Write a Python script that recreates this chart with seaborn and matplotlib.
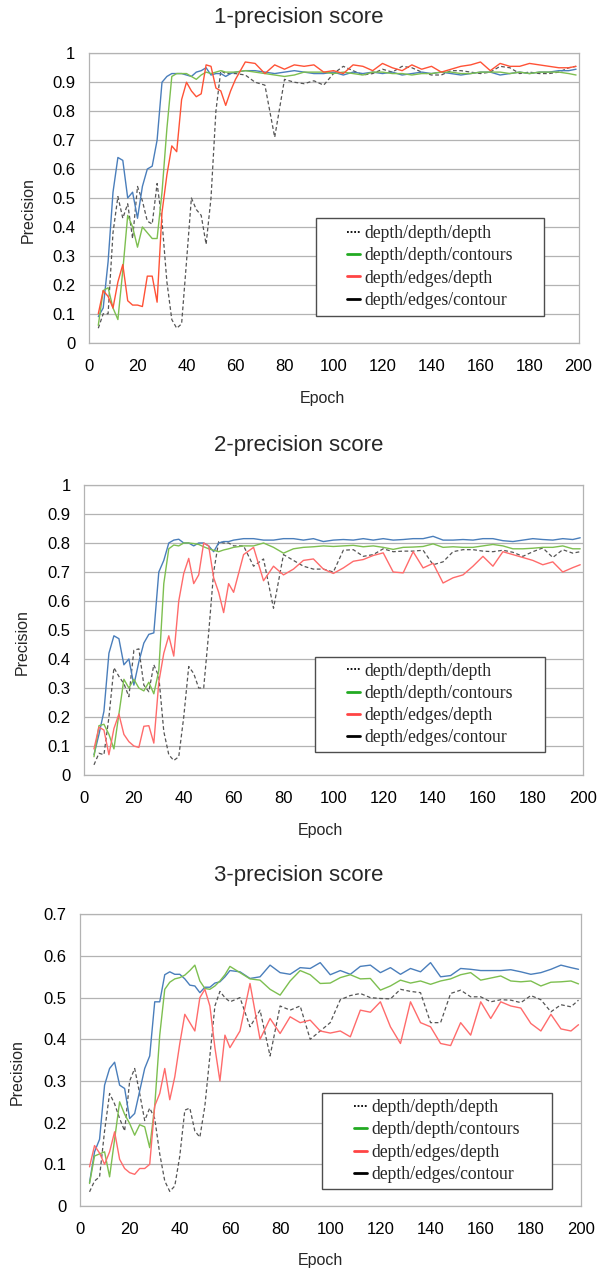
import pandas as pd
import seaborn as sns
import matplotlib.pyplot as plt
from matplotlib.lines import Line2D
from matplotlib.patches import Rectangle

# epochs sampled from the curves (every 2 epochs early, every 4 later)
EPOCHS = list(range(4, 61, 2)) + list(range(64, 197, 4)) + [199]
X_TICKS = list(range(0, 201, 20))

LABELS = ["depth/depth/depth", "depth/depth/contours", "depth/edges/depth", "depth/edges/contour"]
TITLES = ["1-precision score", "2-precision score", "3-precision score"]

# ---- 1-precision ----
p1_blue = [0.09, 0.12, 0.28, 0.52, 0.64, 0.63, 0.50, 0.52, 0.43, 0.54,
           0.60, 0.61, 0.70, 0.90, 0.92, 0.93, 0.93, 0.93, 0.925, 0.92,
           0.935, 0.94, 0.95, 0.925, 0.93, 0.93, 0.92, 0.93, 0.935,
           0.94, 0.94, 0.935, 0.93, 0.935, 0.94, 0.935, 0.93, 0.93, 0.935,
           0.925, 0.935, 0.93, 0.935, 0.93, 0.935, 0.925, 0.93, 0.935, 0.93,
           0.935, 0.93, 0.925, 0.93, 0.935, 0.935, 0.925, 0.93, 0.935, 0.93,
           0.935, 0.935, 0.94, 0.94, 0.945]
p1_green = [0.06, 0.18, 0.19, 0.12, 0.08, 0.25, 0.44, 0.40, 0.33, 0.40,
            0.38, 0.36, 0.36, 0.52, 0.74, 0.92, 0.93, 0.93, 0.93, 0.92,
            0.91, 0.925, 0.935, 0.93, 0.935, 0.94, 0.935, 0.935, 0.935,
            0.94, 0.935, 0.93, 0.925, 0.92, 0.925, 0.935, 0.935, 0.935, 0.93,
            0.935, 0.93, 0.925, 0.935, 0.935, 0.93, 0.93, 0.925, 0.93, 0.93,
            0.935, 0.935, 0.93, 0.93, 0.935, 0.935, 0.935, 0.93, 0.935, 0.93,
            0.935, 0.935, 0.935, 0.93, 0.925]
p1_red = [0.10, 0.18, 0.16, 0.12, 0.21, 0.27, 0.145, 0.13, 0.13, 0.125,
          0.23, 0.23, 0.14, 0.45, 0.58, 0.68, 0.66, 0.84, 0.90, 0.87,
          0.85, 0.86, 0.96, 0.955, 0.88, 0.87, 0.82, 0.87, 0.91,
          0.97, 0.965, 0.93, 0.96, 0.945, 0.96, 0.955, 0.96, 0.935, 0.94,
          0.93, 0.96, 0.955, 0.94, 0.965, 0.95, 0.94, 0.96, 0.945, 0.955,
          0.935, 0.945, 0.955, 0.96, 0.97, 0.94, 0.965, 0.955, 0.955, 0.965,
          0.96, 0.955, 0.95, 0.95, 0.955]
p1_gray = [0.05, 0.10, 0.10, 0.38, 0.505, 0.43, 0.48, 0.36, 0.54, 0.49,
           0.42, 0.41, 0.55, 0.42, 0.21, 0.08, 0.05, 0.065, 0.28, 0.50,
           0.46, 0.44, 0.34, 0.50, 0.80, 0.94, 0.93, 0.93, 0.93,
           0.925, 0.90, 0.89, 0.71, 0.91, 0.90, 0.895, 0.905, 0.89, 0.93,
           0.955, 0.94, 0.925, 0.93, 0.945, 0.935, 0.955, 0.95, 0.935, 0.925,
           0.925, 0.94, 0.94, 0.935, 0.93, 0.935, 0.955, 0.95, 0.93, 0.935,
           0.93, 0.93, 0.935, 0.95, 0.955]

# ---- 2-precision ----
p2_blue = [0.07, 0.14, 0.22, 0.42, 0.48, 0.47, 0.38, 0.40, 0.31, 0.39,
           0.455, 0.485, 0.49, 0.70, 0.74, 0.80, 0.81, 0.813, 0.80, 0.80,
           0.79, 0.80, 0.80, 0.79, 0.77, 0.80, 0.805, 0.805, 0.81,
           0.815, 0.815, 0.81, 0.81, 0.815, 0.815, 0.81, 0.815, 0.805, 0.81,
           0.812, 0.81, 0.815, 0.81, 0.815, 0.81, 0.812, 0.815, 0.815, 0.823,
           0.81, 0.81, 0.812, 0.81, 0.815, 0.815, 0.808, 0.805, 0.81, 0.815,
           0.812, 0.81, 0.815, 0.812, 0.818]
p2_green = [0.063, 0.17, 0.175, 0.14, 0.09, 0.21, 0.33, 0.30, 0.33, 0.30,
            0.29, 0.32, 0.28, 0.36, 0.66, 0.78, 0.793, 0.79, 0.80, 0.80,
            0.798, 0.795, 0.787, 0.78, 0.775, 0.77, 0.776, 0.78, 0.785,
            0.79, 0.79, 0.80, 0.785, 0.765, 0.78, 0.785, 0.787, 0.79, 0.788,
            0.79, 0.792, 0.787, 0.79, 0.785, 0.778, 0.785, 0.786, 0.788, 0.797,
            0.785, 0.787, 0.785, 0.785, 0.79, 0.795, 0.79, 0.78, 0.78, 0.782,
            0.785, 0.785, 0.79, 0.78, 0.78]
p2_red = [0.09, 0.165, 0.155, 0.07, 0.16, 0.21, 0.14, 0.115, 0.10, 0.095,
          0.168, 0.17, 0.11, 0.32, 0.42, 0.48, 0.41, 0.60, 0.695, 0.747,
          0.66, 0.69, 0.80, 0.79, 0.68, 0.63, 0.56, 0.66, 0.63,
          0.76, 0.785, 0.67, 0.72, 0.69, 0.71, 0.74, 0.745, 0.71, 0.695,
          0.714, 0.737, 0.743, 0.757, 0.766, 0.70, 0.697, 0.77, 0.714, 0.73,
          0.662, 0.68, 0.69, 0.72, 0.754, 0.72, 0.77, 0.76, 0.75, 0.74,
          0.725, 0.735, 0.70, 0.715, 0.725]
p2_gray = [0.035, 0.075, 0.07, 0.20, 0.37, 0.34, 0.315, 0.27, 0.43, 0.435,
           0.31, 0.287, 0.38, 0.34, 0.15, 0.07, 0.05, 0.063, 0.20, 0.374,
           0.35, 0.30, 0.30, 0.49, 0.70, 0.805, 0.80, 0.80, 0.79,
           0.79, 0.72, 0.745, 0.575, 0.76, 0.74, 0.72, 0.71, 0.71, 0.70,
           0.775, 0.777, 0.754, 0.76, 0.78, 0.77, 0.772, 0.772, 0.775, 0.725,
           0.735, 0.77, 0.777, 0.777, 0.772, 0.77, 0.775, 0.768, 0.754, 0.77,
           0.783, 0.75, 0.777, 0.765, 0.77]

# ---- 3-precision ----
p3_blue = [0.056, 0.13, 0.16, 0.29, 0.33, 0.345, 0.29, 0.282, 0.21, 0.222,
           0.276, 0.33, 0.36, 0.49, 0.49, 0.555, 0.562, 0.556, 0.556, 0.545,
           0.53, 0.528, 0.512, 0.525, 0.525, 0.535, 0.538, 0.55, 0.565,
           0.562, 0.546, 0.55, 0.578, 0.56, 0.556, 0.572, 0.57, 0.584, 0.555,
           0.565, 0.556, 0.575, 0.578, 0.56, 0.572, 0.556, 0.57, 0.562, 0.584,
           0.55, 0.553, 0.57, 0.568, 0.565, 0.565, 0.565, 0.567, 0.562, 0.556,
           0.56, 0.568, 0.578, 0.572, 0.568]
p3_green = [0.054, 0.12, 0.125, 0.13, 0.07, 0.16, 0.25, 0.22, 0.198, 0.17,
            0.195, 0.19, 0.14, 0.24, 0.41, 0.52, 0.537, 0.545, 0.548, 0.554,
            0.565, 0.578, 0.54, 0.522, 0.52, 0.528, 0.54, 0.555, 0.575,
            0.56, 0.545, 0.542, 0.52, 0.506, 0.54, 0.565, 0.555, 0.534, 0.535,
            0.548, 0.555, 0.545, 0.546, 0.518, 0.528, 0.542, 0.535, 0.54, 0.532,
            0.54, 0.545, 0.555, 0.56, 0.542, 0.547, 0.552, 0.54, 0.538, 0.54,
            0.528, 0.537, 0.538, 0.54, 0.533]
p3_red = [0.094, 0.145, 0.127, 0.10, 0.13, 0.178, 0.112, 0.09, 0.08, 0.076,
          0.09, 0.09, 0.10, 0.24, 0.27, 0.33, 0.255, 0.31, 0.39, 0.46,
          0.44, 0.42, 0.50, 0.52, 0.48, 0.38, 0.30, 0.41, 0.38,
          0.42, 0.534, 0.40, 0.45, 0.414, 0.454, 0.44, 0.446, 0.42, 0.415,
          0.42, 0.406, 0.47, 0.465, 0.49, 0.43, 0.39, 0.49, 0.44, 0.43,
          0.39, 0.385, 0.44, 0.41, 0.49, 0.45, 0.49, 0.48, 0.475, 0.438,
          0.42, 0.46, 0.425, 0.42, 0.435]
p3_gray = [0.034, 0.06, 0.07, 0.18, 0.27, 0.245, 0.21, 0.18, 0.30, 0.33,
           0.27, 0.205, 0.235, 0.21, 0.125, 0.06, 0.035, 0.048, 0.12, 0.23,
           0.235, 0.18, 0.165, 0.24, 0.36, 0.48, 0.515, 0.50, 0.49,
           0.50, 0.43, 0.47, 0.36, 0.48, 0.47, 0.48, 0.40, 0.42, 0.44,
           0.495, 0.505, 0.51, 0.50, 0.498, 0.497, 0.52, 0.515, 0.512, 0.44,
           0.44, 0.51, 0.518, 0.502, 0.502, 0.49, 0.495, 0.494, 0.488, 0.505,
           0.495, 0.466, 0.483, 0.478, 0.494]

W, H = 598, 1271
GRID = '#b3b3b3'


def px_rect(x0, x1, ytop, ybot):
  return [x0 / W, 1 - ybot / H, (x1 - x0) / W, (ybot - ytop) / H]


def draw_panel(fig, rect, series, ymax, red, legend_box, title_y, xlabel_pos, ylabel_pos, title):
  ax = fig.add_axes(rect)
  df = pd.DataFrame({'epoch': EPOCHS, 'blue': series[0], 'green': series[1],
                     'red': series[2], 'gray': series[3]})

  # plot order: dashed gray, blue, green, red on top
  sns.lineplot(data=df, x='epoch', y='gray', color='#555555', linewidth=0.9,
               linestyle=(0, (3, 2)), ax=ax)
  sns.lineplot(data=df, x='epoch', y='blue', color='#4a7ebb', linewidth=1.0, ax=ax)
  sns.lineplot(data=df, x='epoch', y='green', color='#7dbf50', linewidth=1.0, ax=ax)
  sns.lineplot(data=df, x='epoch', y='red', color=red, linewidth=1.0, ax=ax)

  ax.set_xlim(0, 200)
  ax.set_ylim(0, ymax)
  ax.set_xticks(X_TICKS)
  yt = [round(v * 0.1, 1) for v in range(int(round(ymax * 10)) + 1)]
  ax.set_yticks(yt)
  ax.set_yticklabels([f"{v:g}" for v in yt])
  ax.set_xlabel('')
  ax.set_ylabel('')
  ax.grid(axis='y', color=GRID, linewidth=0.9)
  ax.grid(axis='x', visible=False)
  for s in ax.spines.values():
    s.set_color(GRID)
    s.set_linewidth(0.9)
  ax.tick_params(axis='both', length=5.5, width=0.9, color=GRID, labelsize=12,
                 labelcolor='black', direction='out')
  ax.tick_params(axis='x', pad=6)
  ax.tick_params(axis='y', pad=4)

  # legend (as drawn in the original, colours do not match the blue line)
  rx, ry, rw, rh = legend_box
  ax.add_patch(Rectangle((rx, ry), rw, rh, transform=ax.transAxes, facecolor='white',
                         edgecolor='#4d4d4d', linewidth=1.0, zorder=5))
  handles = [Line2D([], [], color='black', linestyle=(0, (1, 1)), linewidth=1.3),
             Line2D([], [], color='#22aa22', linewidth=2.0),
             Line2D([], [], color='#ff4444', linewidth=2.0),
             Line2D([], [], color='black', linewidth=2.0)]
  leg = ax.legend(handles, LABELS, loc='center', bbox_to_anchor=(rx + rw / 2, ry + rh / 2),
                  frameon=False, handlelength=0.75, handletextpad=0.25, labelspacing=0.3,
                  prop={'family': ['Liberation Serif', 'DejaVu Serif'], 'size': 12.7})
  leg.set_zorder(6)

  fig.text(0.5, 1 - title_y / H, title, ha='center', va='center', fontsize=16)
  fig.text(xlabel_pos[0] / W, 1 - xlabel_pos[1] / H, 'Epoch', ha='center', va='center', fontsize=11.5)
  fig.text(ylabel_pos[0] / W, 1 - ylabel_pos[1] / H, 'Precision', ha='center', va='center',
           rotation=90, fontsize=11.5)
  return ax


def main():
  sns.set_theme(style="white")
  plt.rcParams['font.family'] = ['Liberation Sans', 'DejaVu Sans']

  fig = plt.figure(figsize=(W / 100, H / 100), dpi=100)

  draw_panel(fig, px_rect(88.5, 578.5, 53.3, 342.7), [p1_blue, p1_green, p1_red, p1_gray], 1.0,
             '#ff5236', (0.464, 0.092, 0.465, 0.339), 17, (322, 399), (28, 210), TITLES[0])
  draw_panel(fig, px_rect(84, 582.7, 485, 775), [p2_blue, p2_green, p2_red, p2_gray], 1.0,
             '#ff6b6b', (0.4637, 0.079, 0.461, 0.328), 446, (320, 831), (22, 642), TITLES[1])
  draw_panel(fig, px_rect(79.5, 581, 914.3, 1206), [p3_blue, p3_green, p3_red, p3_gray], 0.7,
             '#ff6b6b', (0.483, 0.057, 0.46, 0.331), 876, (320, 1261), (17, 1072), TITLES[2])

  plt.savefig("out.png", dpi=100)
  plt.clf()


if __name__ == "__main__":
  main()
